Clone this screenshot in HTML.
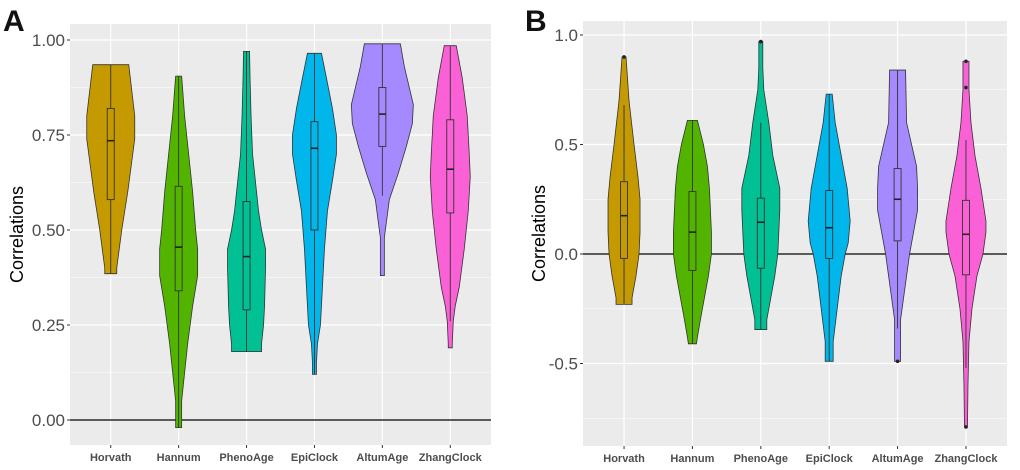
<!DOCTYPE html>
<html><head><meta charset="utf-8"><style>
body{margin:0;background:#fff;}
svg{display:block;font-family:"Liberation Sans",sans-serif;}
</style></head><body>
<svg id="c" width="1020" height="470"></svg>
<script>
const categories=["Horvath","Hannum","PhenoAge","EpiClock","AltumAge","ZhangClock"];
const colors=["#C49A00","#53B400","#00C094","#00B6EB","#A58AFF","#FB61D7"];
// Panel A: density profiles [value, halfwidth]
const aProfiles=[
[[0.385,6],[0.40,6],[0.50,11],[0.60,17],[0.70,22],[0.74,24],[0.80,24],[0.89,20],[0.935,18]],
[[-0.02,3],[0.05,3],[0.10,5],[0.20,9],[0.30,14],[0.38,19],[0.45,19],[0.50,17],[0.60,14],[0.70,10],[0.80,6],[0.905,3]],
[[0.18,15],[0.20,15],[0.25,17],[0.30,18],[0.40,19],[0.45,19],[0.50,15],[0.55,12],[0.60,10],[0.70,6],[0.80,4.5],[0.90,3.5],[0.97,3]],
[[0.12,2],[0.15,2],[0.20,3],[0.25,6],[0.35,8],[0.45,10],[0.55,13],[0.63,18],[0.70,22],[0.75,22],[0.82,18],[0.90,12],[0.965,7]],
[[0.38,2],[0.40,2],[0.48,2],[0.52,4],[0.58,7],[0.65,16],[0.72,24],[0.78,30],[0.83,31],[0.93,22],[0.99,18]],
[[0.19,2],[0.20,2],[0.26,3],[0.30,5],[0.35,9],[0.45,14],[0.55,18],[0.64,20],[0.70,19],[0.80,17],[0.90,12],[0.985,6]]
];
const aQ1=[0.58,0.34,0.29,0.50,0.72,0.545];
const aMed=[0.735,0.455,0.43,0.715,0.805,0.66];
const aQ3=[0.82,0.615,0.575,0.785,0.875,0.79];
const aLo=[0.385,-0.02,0.18,0.12,0.59,0.26];
const aHi=[0.935,0.905,0.97,0.965,0.99,0.985];
const aTicks=[0,0.25,0.5,0.75,1.0];
const aTickLabels=["0.00","0.25","0.50","0.75","1.00"];
// Panel B
const bProfiles=[
[[-0.23,8],[-0.2,8],[-0.1,12],[0.0,15],[0.1,16],[0.25,16],[0.35,14],[0.5,10],[0.7,5],[0.9,2]],
[[-0.41,4],[-0.38,5],[-0.3,8],[-0.2,12],[-0.1,16],[0.0,19],[0.1,19],[0.3,17],[0.4,15],[0.5,11],[0.61,5]],
[[-0.345,6],[-0.3,6],[-0.2,10],[-0.1,14],[0.0,17],[0.1,18],[0.2,19],[0.3,19],[0.45,12],[0.6,8],[0.75,3],[0.85,2],[0.97,2]],
[[-0.49,4],[-0.4,4],[-0.25,8],[-0.1,12],[0.0,16],[0.05,19],[0.15,21],[0.3,18],[0.45,12],[0.6,6],[0.73,3]],
[[-0.49,3],[-0.4,3],[-0.3,3],[-0.2,6],[-0.1,9],[0.0,12],[0.1,16],[0.2,20],[0.3,20],[0.4,19],[0.5,14],[0.6,9],[0.84,8]],
[[-0.79,1.5],[-0.6,2],[-0.4,3],[-0.25,6],[-0.1,11],[0.0,17],[0.1,20],[0.15,20],[0.3,15],[0.45,9],[0.6,5],[0.75,3],[0.88,3]]
];
const bQ1=[-0.02,-0.075,-0.065,-0.02,0.06,-0.095];
const bMed=[0.175,0.10,0.145,0.12,0.25,0.09];
const bQ3=[0.33,0.285,0.255,0.29,0.39,0.245];
const bLo=[-0.23,-0.41,-0.345,-0.49,-0.34,-0.52];
const bHi=[0.68,0.61,0.60,0.73,0.84,0.52];
const bOutliers=[[0.90],[],[0.97],[],[-0.49],[0.76,0.88,-0.79]];
const bTicks=[-0.5,0,0.5,1.0];
const bTickLabels=["-0.5","0.0","0.5","1.0"];

const NS="http://www.w3.org/2000/svg";
const svg=document.getElementById('c');
function mk(tag,attrs,parent){const e=document.createElementNS(NS,tag);for(const k in attrs)e.setAttribute(k,attrs[k]);(parent||svg).appendChild(e);return e;}

function panel(o){
  const g=mk('g',{});
  
  
  const y=v=>o.y0+(v-o.v0)*(o.y1-o.y0)/(o.v1-o.v0);
  const step=(o.xR-o.xL)/6.2;
  const x=i=>o.xL+step*(0.6+i);
  const bg=mk('rect',{x:o.xL,y:o.yT,width:o.xR-o.xL,height:o.yB-o.yT,fill:'#EBEBEB'},g);
  
  
  for(let i=0;i<o.ticks.length-1;i++){
    const m=(o.ticks[i]+o.ticks[i+1])/2;
    mk('line',{x1:o.xL,x2:o.xR,y1:y(m),y2:y(m),stroke:'#fff','stroke-width':0.6},g);
  }
  (o.extraMinor||[]).forEach(m=>mk('line',{x1:o.xL,x2:o.xR,y1:y(m),y2:y(m),stroke:'#fff','stroke-width':0.6},g));
  o.ticks.forEach((t,i)=>{
    mk('line',{x1:o.xL,x2:o.xR,y1:y(t),y2:y(t),stroke:'#fff','stroke-width':1.2},g);
    mk('line',{x1:o.xL-3,x2:o.xL,y1:y(t),y2:y(t),stroke:'#333','stroke-width':1},g);
    const tl=mk('text',{x:o.xL-5,y:y(t)+6,'text-anchor':'end','font-size':17,fill:'#4D4D4D'},g);
    tl.textContent=o.tickLabels[i];
    
    
  });
  categories.forEach((c,i)=>{
    mk('line',{x1:x(i),x2:x(i),y1:o.yT,y2:o.yB,stroke:'#fff','stroke-width':1.2},g);
    mk('line',{x1:x(i),x2:x(i),y1:o.yB,y2:o.yB+3,stroke:'#333','stroke-width':1},g);
    const tl=mk('text',{x:x(i),y:o.yB+16,'text-anchor':'middle','font-size':11,'font-weight':'bold',fill:'#4D4D4D'},g);
    tl.textContent=c;
    
    
  });
  const z=mk('line',{x1:o.xL,x2:o.xR,y1:y(0),y2:y(0),stroke:'#000','stroke-width':1.3},g);
  
  
  categories.forEach((c,i)=>{
    const p=o.prof[i],cx=x(i);
    let d='M'+p.map(q=>(cx+q[1])+','+y(q[0])).join('L');
    for(let k=p.length-1;k>=0;k--)d+='L'+(cx-p[k][1])+','+y(p[k][0]);
    d+='Z';
    const v=mk('path',{d:d,fill:colors[i],stroke:'#333','stroke-width':0.8},g);
    
    
    mk('line',{x1:cx,x2:cx,y1:y(o.lo[i]),y2:y(o.hi[i]),stroke:'#333','stroke-width':0.9},g);
    const b=mk('rect',{x:cx-3.5,y:y(o.q3[i]),width:7,height:y(o.q1[i])-y(o.q3[i]),fill:colors[i],stroke:'#333','stroke-width':0.9},g);
    
    
    mk('line',{x1:cx-3.5,x2:cx+3.5,y1:y(o.med[i]),y2:y(o.med[i]),stroke:'#222','stroke-width':1.6},g);
    (o.out?o.out[i]:[]).forEach(v2=>{
      const pt=mk('circle',{cx:cx,cy:y(v2),r:1.8,fill:'#222'},g);
      
      
    });
  });
  const yt=mk('text',{transform:`translate(${o.titleX},${(o.yT+o.yB)/2}) rotate(-90)`,'text-anchor':'middle','font-size':18,fill:'#000'},g);
  yt.textContent='Correlations';
  
  
  const pl=mk('text',{x:o.letterX,y:31,'font-size':30,'font-weight':'bold',fill:'#111'},g);
  pl.textContent=o.letter;
  
  
}
panel({name:'panel-a',letter:'A',letterX:3,titleX:23,xL:70,xR:491,yT:24,yB:445,v0:0,v1:1,y0:420,y1:40,
  ticks:aTicks,tickLabels:aTickLabels,extraMinor:[-0.125],prof:aProfiles,q1:aQ1,med:aMed,q3:aQ3,lo:aLo,hi:aHi});
panel({name:'panel-b',letter:'B',letterX:525,titleX:545,xL:583,xR:1007,yT:21,yB:446,v0:0,v1:1,y0:254,y1:35,
  ticks:bTicks,tickLabels:bTickLabels,extraMinor:[-0.75],prof:bProfiles,q1:bQ1,med:bMed,q3:bQ3,lo:bLo,hi:bHi,out:bOutliers});
</script>
</body></html>
